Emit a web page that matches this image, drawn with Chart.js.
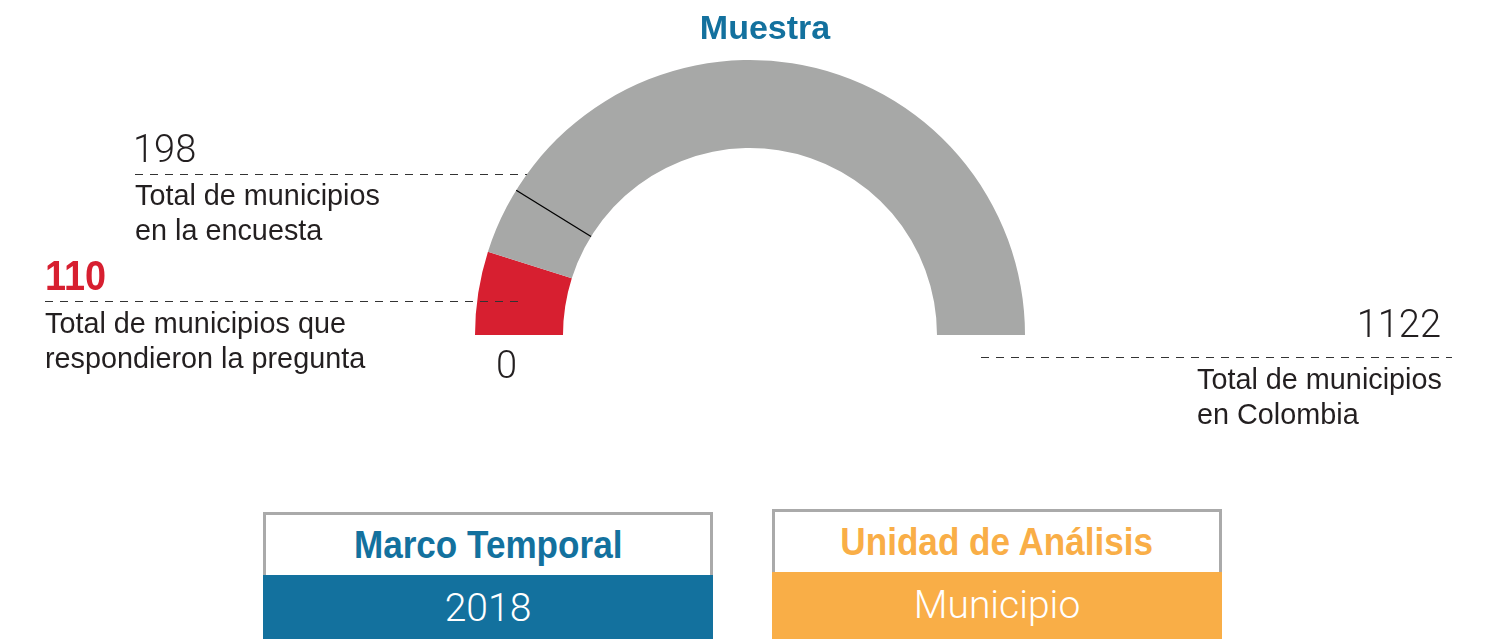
<!DOCTYPE html>
<html>
<head>
<meta charset="utf-8">
<script src="https://cdn.jsdelivr.net/npm/chart.js@4"></script>
<style>
  html, body { margin:0; padding:0; background:#fff; }
  #wrap { position:relative; width:1489px; height:639px; overflow:hidden; font-family:"Liberation Sans", Arial, sans-serif; color:#231f20; }
  #gauge { position:absolute; left:0; top:0; }
  .lbl { position:absolute; white-space:nowrap; }
  .num { font-family:Roboto, "Liberation Sans", sans-serif; font-weight:300; font-size:38px; line-height:38px; }
  .txt { font-size:28.8px; line-height:35px; }
  .box { position:absolute; width:444px; border:3px solid #aaa; border-bottom:none; background:#fff; box-sizing:content-box; }
  .box .head { height:60px; line-height:60px; text-align:center; font-weight:bold; font-size:39px; }
  .box .head span, .red span { display:inline-block; transform:scaleX(0.9); }
  .box .val { height:70px; line-height:66px; text-align:center; color:#fff; font-family:Roboto, sans-serif; font-weight:300; font-size:39px; margin:0 -3px; }
</style>
</head>
<body>
<div id="wrap">
  <canvas id="gauge" width="1489" height="639"></canvas>
  <div class="lbl" style="left:0;width:1530px;top:8px;text-align:center;font-weight:bold;font-size:34px;color:#13719e;">Muestra</div>

  <div class="lbl num" style="left:133px;top:130px;">198</div>
  <div class="lbl txt" style="left:135px;top:178px;">Total de municipios<br>en la encuesta</div>

  <div class="lbl red" style="left:45px;top:252px;font-weight:bold;font-size:42px;color:#d71f30;"><span style="transform-origin:left;">110</span></div>
  <div class="lbl txt" style="left:45px;top:306px;">Total de municipios que<br>respondieron la pregunta</div>

  <div class="lbl num" style="left:496px;top:346px;">0</div>

  <div class="lbl num" style="right:48px;top:305px;">1122</div>
  <div class="lbl txt" style="left:1197px;top:362px;">Total de municipios<br>en Colombia</div>

  <div class="box" style="left:263px;top:512px;">
    <div class="head" style="color:#13719e;"><span>Marco Temporal</span></div>
    <div class="val" style="background:#13719e;">2018</div>
  </div>
  <div class="box" style="left:772px;top:509px;">
    <div class="head" style="color:#f9ae47;"><span>Unidad de Análisis</span></div>
    <div class="val" style="background:#f9ae47;">Municipio</div>
  </div>
</div>
<script>
// datos del indicador
var labels = ['Respondieron la pregunta', 'Resto de municipios'];
var respondieron = 110;
var encuesta = 198;
var totalColombia = 1122;
var values = [respondieron, totalColombia - respondieron];
var colors = ['#d71f30', '#a7a8a7'];

// lineas guia y marca de 198
var gaugeMarks = {
  id: 'gaugeMarks',
  afterDatasetsDraw: function(chart){
    var ctx = chart.ctx,
      arc = chart.getDatasetMeta(0).data[0],
      cx = arc.x, cy = arc.y,
      rO = arc.outerRadius, rI = arc.innerRadius;
    var ang = arc.startAngle + (encuesta / totalColombia) * Math.PI;

    ctx.save();
    // marca en 198
    ctx.strokeStyle = '#000';
    ctx.lineWidth = 1.3;
    ctx.beginPath();
    ctx.moveTo(cx + Math.cos(ang) * rO, cy + Math.sin(ang) * rO);
    ctx.lineTo(cx + Math.cos(ang) * rI, cy + Math.sin(ang) * rI);
    ctx.stroke();

    // lineas punteadas
    ctx.strokeStyle = '#333';
    ctx.lineWidth = 1;
    ctx.setLineDash([8, 7]);
    var dash = function(x1, x2, y){
      ctx.beginPath();
      ctx.moveTo(x1, y + 0.5);
      ctx.lineTo(x2, y + 0.5);
      ctx.stroke();
    };
    var y1 = 174;
    dash(135, cx - Math.sqrt(rO * rO - (cy - y1) * (cy - y1)), y1);
    var y2 = 301, rm = (rO + rI) / 2;
    dash(45, cx - Math.sqrt(rm * rm - (cy - y2) * (cy - y2)), y2);
    dash(981, 1452, 357);
    ctx.restore();
  }
};

new Chart(document.getElementById('gauge'), {
  type: 'doughnut',
  data: {
    labels: labels,
    datasets: [{
      data: values,
      backgroundColor: colors,
      borderWidth: 0,
      hoverOffset: 0
    }]
  },
  options: {
    responsive: false,
    animation: false,
    rotation: -90,
    circumference: 180,
    cutout: '68%',
    layout: { padding: { left: 475, right: 464, top: 60, bottom: 304 } },
    plugins: { legend: { display: false }, tooltip: { enabled: false } },
    events: []
  },
  plugins: [gaugeMarks]
});
</script>
</body>
</html>
